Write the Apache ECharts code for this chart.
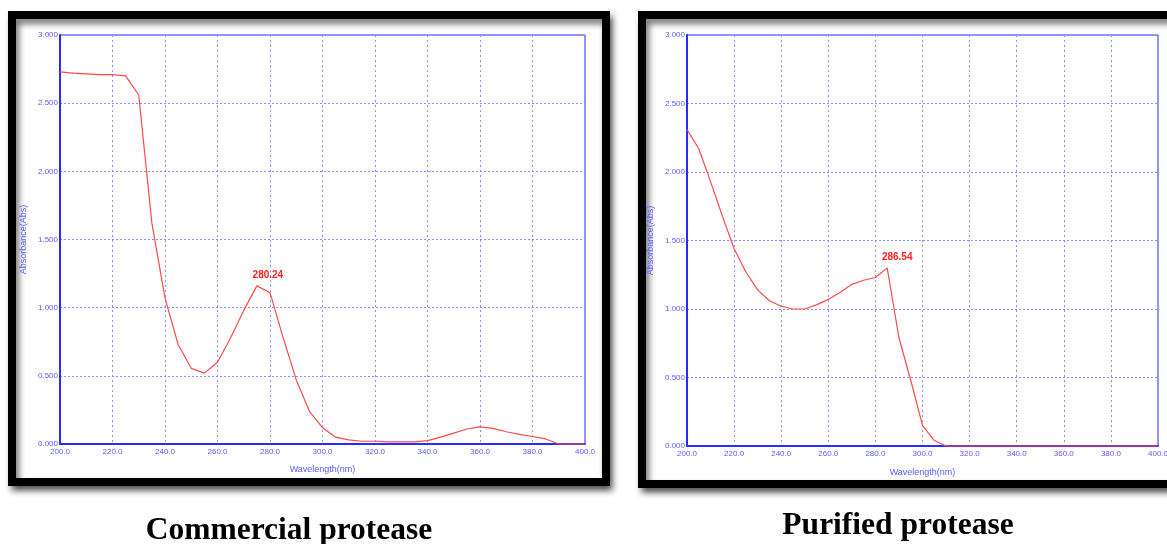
<!DOCTYPE html>
<html>
<head>
<meta charset="utf-8">
<title>UV spectra</title>
<script src="https://cdn.jsdelivr.net/npm/echarts@6/dist/echarts.min.js"></script>
<style>
  html, body { margin: 0; padding: 0; background: #fff; }
  #chart { width: 1167px; height: 544px; }
</style>
</head>
<body>
<div id="chart"></div>
<script>
// wavelengths (nm), 5 nm steps
var wavelengths = [
  200, 205, 210, 215, 220, 225, 230, 235, 240, 245,
  250, 255, 260, 265, 270, 275, 280, 285, 290, 295,
  300, 305, 310, 315, 320, 325, 330, 335, 340, 345,
  350, 355, 360, 365, 370, 375, 380, 385, 390, 395, 400
]
var commercialAbs = [
  2.73, 2.72, 2.715, 2.71, 2.71, 2.70, 2.56, 1.62, 1.07, 0.73,
  0.555, 0.52, 0.60, 0.78, 0.98, 1.16, 1.11, 0.78, 0.47, 0.24,
  0.12, 0.05, 0.03, 0.02, 0.02, 0.015, 0.015, 0.015, 0.025, 0.05,
  0.08, 0.11, 0.125, 0.115, 0.09, 0.07, 0.055, 0.037, 0, 0, 0
]
var purifiedAbs = [
  2.31, 2.17, 1.93, 1.68, 1.44, 1.27, 1.14, 1.06, 1.02, 1.00,
  1.00, 1.03, 1.07, 1.12, 1.18, 1.21, 1.23, 1.30, 0.79, 0.48,
  0.15, 0.04, 0, 0, 0, 0, 0, 0, 0, 0,
  0, 0, 0, 0, 0, 0, 0, 0, 0, 0, 0
]
var peakLabels = ['280.24', '286.54']
var peakIndex = [15, 17] // 275 nm, 285 nm
var panelTitles = ['Commercial protease', 'Purified protease']

var blue = '#2a2aff'
var labelBlue = '#5a5aff'
var gridBlue = '#8c8cff'
var lineRed = '#ff4a4a'

function buildData (values, peak, text, offset) {
  return wavelengths.map(function (w, i) {
    var item = { value: [w, values[i]] }
    if (i === peak) {
      item.label = {
        show: true,
        formatter: text,
        position: 'top',
        distance: 6,
        offset: offset,
        color: '#ff2020',
        fontSize: 10,
        fontWeight: 'bold',
        fontFamily: 'Liberation Sans Narrow, Liberation Sans, sans-serif'
      }
    }
    return item
  })
}

function xAxisFor (idx, gap) {
  return {
    gridIndex: idx,
    type: 'value',
    min: 200,
    max: 400,
    interval: 20,
    name: 'Wavelength(nm)',
    nameLocation: 'middle',
    nameGap: gap,
    nameTextStyle: { color: labelBlue, fontSize: 9 },
    axisLine: { show: true, lineStyle: { color: blue, width: 2 } },
    axisTick: { show: false },
    axisLabel: {
      color: labelBlue,
      fontSize: 8,
      margin: 4,
      formatter: function (v) { return v.toFixed(1) }
    },
    splitLine: { show: true, lineStyle: { color: gridBlue, type: [2, 3], width: 1 } }
  }
}

function yAxisFor (idx) {
  return {
    gridIndex: idx,
    type: 'value',
    min: 0,
    max: 3,
    interval: 0.5,
    name: 'Absorbance(Abs)',
    nameLocation: 'middle',
    nameGap: 32,
    nameTextStyle: { color: labelBlue, fontSize: 9 },
    axisLine: { show: true, lineStyle: { color: blue, width: 2 } },
    axisTick: { show: false },
    axisLabel: {
      color: labelBlue,
      fontSize: 8,
      margin: 2,
      formatter: function (v) { return v.toFixed(3) }
    },
    splitLine: { show: true, lineStyle: { color: gridBlue, type: [2, 2], width: 1 } }
  }
}

var chart = echarts.init(document.getElementById('chart'))
chart.setOption({
  animation: false,
  backgroundColor: '#fff',
  graphic: [
    {
      type: 'rect',
      z: -10,
      shape: { x: 12, y: 15, width: 594, height: 467 },
      style: {
        fill: '#fff',
        stroke: '#000',
        lineWidth: 8,
        shadowBlur: 6,
        shadowOffsetX: 3,
        shadowOffsetY: 5,
        shadowColor: 'rgba(0,0,0,0.55)'
      }
    },
    {
      type: 'rect',
      z: -10,
      shape: { x: 642, y: 15, width: 600, height: 469 },
      style: {
        fill: '#fff',
        stroke: '#000',
        lineWidth: 8,
        shadowBlur: 6,
        shadowOffsetX: 3,
        shadowOffsetY: 5,
        shadowColor: 'rgba(0,0,0,0.55)'
      }
    },
    {
      type: 'text',
      x: 289,
      y: 531,
      style: {
        text: panelTitles[0],
        font: 'bold 31.5px "Liberation Serif", "Times New Roman", serif',
        fill: '#000',
        textAlign: 'center',
        textVerticalAlign: 'middle'
      }
    },
    {
      type: 'text',
      x: 898,
      y: 526,
      style: {
        text: panelTitles[1],
        font: 'bold 31.5px "Liberation Serif", "Times New Roman", serif',
        fill: '#000',
        textAlign: 'center',
        textVerticalAlign: 'middle'
      }
    }
  ],
  grid: [
    { left: 60, top: 35, width: 525, height: 409, show: true, borderColor: blue, borderWidth: 1, outerBoundsMode: 'none' },
    { left: 687, top: 35, width: 471, height: 411, show: true, borderColor: blue, borderWidth: 1, outerBoundsMode: 'none' }
  ],
  xAxis: [xAxisFor(0, 21), xAxisFor(1, 22)],
  yAxis: [yAxisFor(0), yAxisFor(1)],
  series: [
    {
      type: 'line',
      xAxisIndex: 0,
      yAxisIndex: 0,
      symbol: 'circle',
      symbolSize: 0,
      showSymbol: true,
      clip: false,
      lineStyle: { color: lineRed, width: 1.2 },
      itemStyle: { color: lineRed },
      data: buildData(commercialAbs, peakIndex[0], peakLabels[0], [11, 0]),
      z: 5
    },
    {
      type: 'line',
      xAxisIndex: 1,
      yAxisIndex: 1,
      symbol: 'circle',
      symbolSize: 0,
      showSymbol: true,
      clip: false,
      lineStyle: { color: lineRed, width: 1.2 },
      itemStyle: { color: lineRed },
      data: buildData(purifiedAbs, peakIndex[1], peakLabels[1], [10, 0]),
      z: 5
    }
  ]
})
</script>
</body>
</html>
